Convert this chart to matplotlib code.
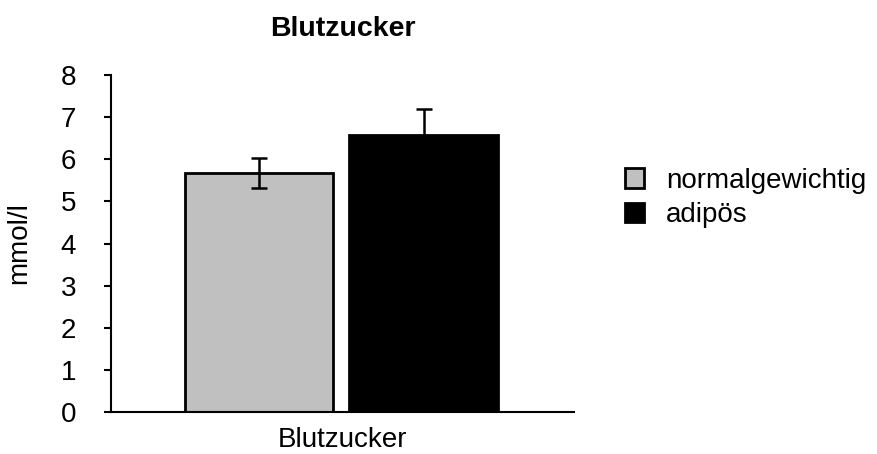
import numpy as np
import matplotlib.pyplot as plt
from matplotlib.patches import Patch

plt.rcParams['font.family'] = ['Liberation Sans', 'DejaVu Sans']

categories = ['Blutzucker']
groups = ['normalgewichtig', 'adipös']
means = [5.67, 6.58]
errors = [0.36, 0.62]
colors = ['#c0c0c0', '#000000']

fig = plt.figure(figsize=(8.78, 4.54), dpi=100)
ax = fig.add_axes([0.1264, 0.0925, 0.5274, 0.7423])

x = np.arange(len(categories))
width = 0.32
offsets = [-0.18, 0.175]
for i, g in enumerate(groups):
    ax.bar(x + offsets[i], [means[i]], width, yerr=[errors[i]], color=colors[i],
           edgecolor='black', linewidth=2, label=g,
           error_kw=dict(ecolor='black', elinewidth=1.8, capsize=6, capthick=1.8))

ax.set_xlim(-0.5, 0.5)
ax.set_ylim(0, 8)
ax.set_yticks(range(0, 9))
ax.set_xticks(x)
ax.set_xticklabels(categories)
ax.tick_params(axis='y', labelsize=20, length=5, width=1.5, pad=20)
ax.tick_params(axis='x', labelsize=20, length=0, pad=11)

for s in ['top', 'right']:
    ax.spines[s].set_visible(False)
for s in ['left', 'bottom']:
    ax.spines[s].set_linewidth(1.5)

ax.set_title('Blutzucker', fontsize=20.5, fontweight='bold', pad=28)
ax.set_ylabel('mmol/l', fontsize=20)
ax.yaxis.set_label_coords(-0.17, 0.5)

handles = [Patch(facecolor=colors[i], edgecolor='black', linewidth=2, label=groups[i])
           for i in range(len(groups))]
ax.legend(handles=handles, loc='upper left', bbox_to_anchor=(0.699, 0.655),
          bbox_transform=fig.transFigure, frameon=False, fontsize=20,
          handlelength=0.68, handleheight=0.68, handletextpad=0.8,
          labelspacing=0.3, borderaxespad=0)

fig.savefig('out.png', dpi=100)
